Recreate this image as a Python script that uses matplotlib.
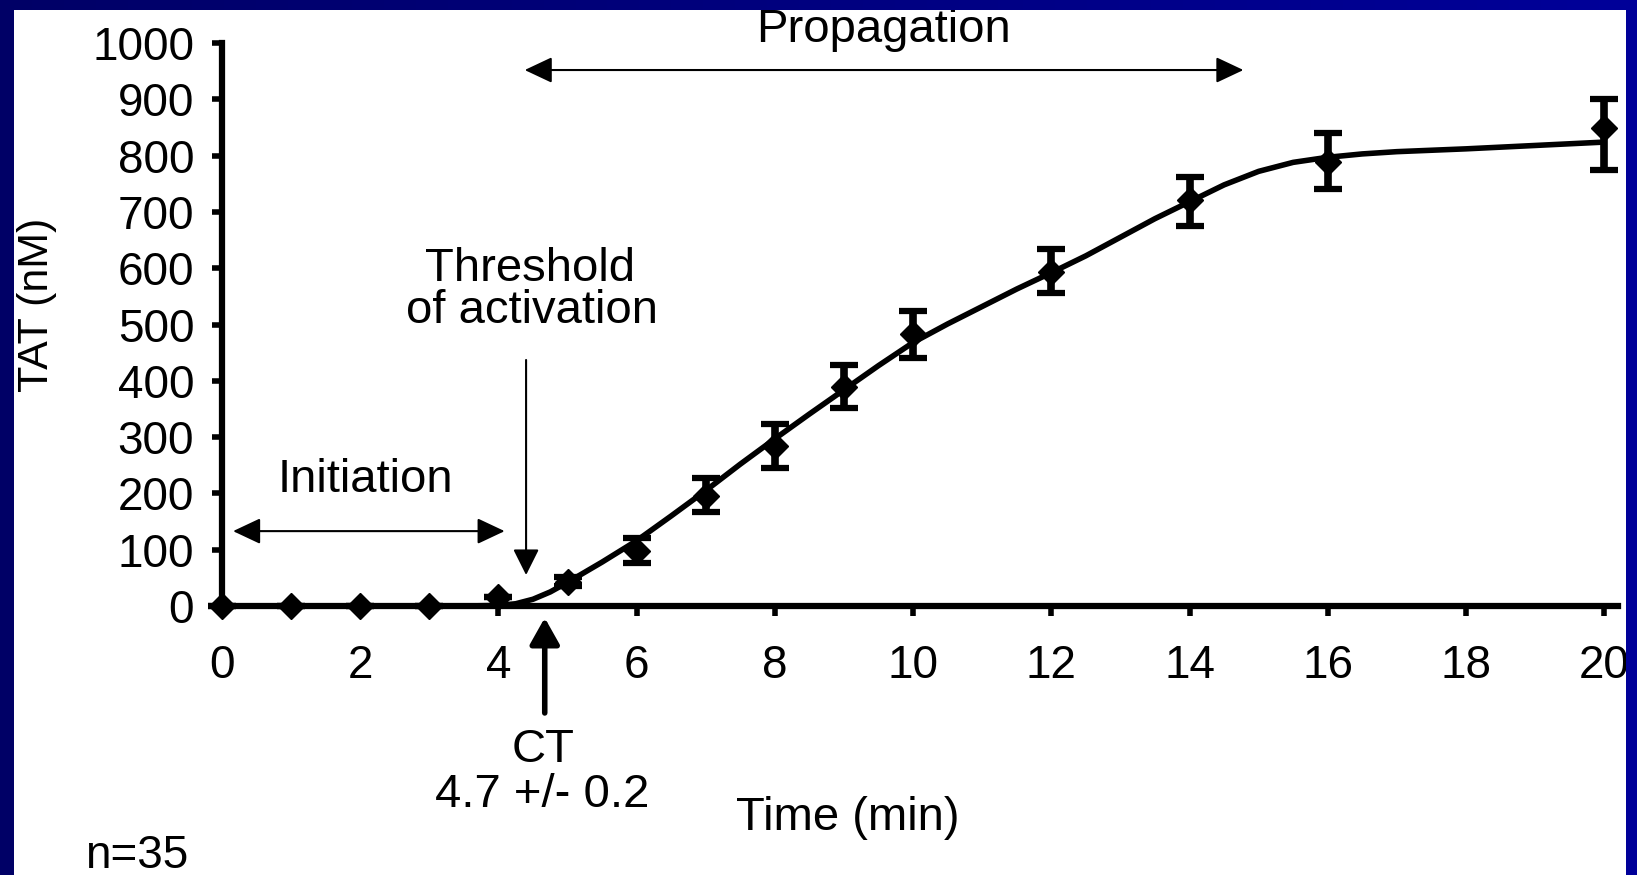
import numpy as np
import matplotlib
matplotlib.use("Agg")
import matplotlib.pyplot as plt
from matplotlib.patches import Rectangle
from matplotlib.colors import LinearSegmentedColormap

plt.rcParams['font.family'] = ['Liberation Sans', 'DejaVu Sans']

# ---- data ----
time_min = [0, 1, 2, 3, 4, 5, 6, 7, 8, 9, 10, 12, 14, 16, 20]
tat_nm = [0, 0, 0, 0, 16, 43, 97, 195, 284, 389, 484, 594, 721, 789, 849]
err_low = [0, 0, 0, 0, 0, 8, 21, 28, 39, 37, 43, 38, 46, 49, 75]
err_high = [0, 0, 0, 0, 0, 8, 24, 32, 39, 39, 40, 40, 41, 51, 51]

fit_time = [0, 1, 2, 3, 3.5, 4, 4.25, 4.5, 4.75, 5, 5.5, 6, 6.5, 7, 7.5, 8, 8.5, 9,
            9.5, 10, 10.5, 11, 11.5, 12, 12.5, 13, 13.5, 14, 14.5, 15, 15.5,
            16, 16.5, 17, 18, 19, 20]
fit_tat = [0, 0, 0, 0, 0, 1, 4, 12, 25, 42, 78, 116, 160, 205, 252, 297, 341, 384,
           427, 468, 501, 532, 563, 592, 622, 655, 688, 718, 748, 772, 788,
           797, 803, 807, 812, 818, 824]

x_ticks = [0, 2, 4, 6, 8, 10, 12, 14, 16, 18, 20]
y_ticks = [0, 100, 200, 300, 400, 500, 600, 700, 800, 900, 1000]

W, H = 1637, 875
fig = plt.figure(figsize=(W / 100, H / 100), dpi=100)
fig.patch.set_facecolor('white')

ax = fig.add_axes([222 / W, 1 - 606 / H, (1618 - 222) / W, (606 - 43) / H])
ax.set_xlim(0, 20.2)
ax.set_ylim(0, 1000)
for s in ['top', 'right']:
    ax.spines[s].set_visible(False)
for s in ['left', 'bottom']:
    ax.spines[s].set_linewidth(4.5)
ax.set_xticks(x_ticks)
ax.set_yticks(y_ticks)
ax.tick_params(axis='both', direction='out', length=7, width=4, labelsize=33)
ax.tick_params(axis='x', pad=20)
ax.tick_params(axis='y', pad=13)

ax.plot(fit_time, fit_tat, color='black', lw=4, solid_capstyle='round', zorder=3)
ax.errorbar(time_min, tat_nm, yerr=[err_low, err_high], fmt='none', ecolor='black',
            elinewidth=5.5, capsize=10, capthick=4.5, zorder=4, clip_on=False)
ax.plot(time_min, tat_nm, linestyle='none', marker='D', markersize=13,
        color='black', zorder=5, clip_on=False)

# annotations
def darrow(x0, y0, x1, y1, style, lw, hl, hw):
    ax.annotate('', xy=(x1, y1), xytext=(x0, y0), annotation_clip=False,
                arrowprops=dict(arrowstyle=f'{style},head_length={hl},head_width={hw}',
                                lw=lw, color='black', shrinkA=0, shrinkB=0,
                                mutation_scale=1))

darrow(4.38, 952, 14.78, 952, '<|-|>', 1.5, 17, 8)   # propagation
darrow(0.16, 133, 4.09, 133, '<|-|>', 1.5, 17, 8)    # initiation
darrow(4.40, 437, 4.40, 55, '-|>', 1.5, 16, 8)       # threshold
darrow(4.67, -190, 4.67, -21, '-|>', 4, 16, 9)       # CT

fs = 34
fig.text(883 / W, 1 - 42 / H, 'Propagation', ha='center', va='baseline', fontsize=fs)
fig.text(365 / W, 1 - 492 / H, 'Initiation', ha='center', va='baseline', fontsize=fs)
fig.text(530 / W, 1 - 281 / H, 'Threshold', ha='center', va='baseline', fontsize=fs)
fig.text(532 / W, 1 - 323 / H, 'of activation', ha='center', va='baseline', fontsize=fs)
fig.text(543 / W, 1 - 762 / H, 'CT', ha='center', va='baseline', fontsize=fs)
fig.text(542 / W, 1 - 807 / H, '4.7 +/- 0.2', ha='center', va='baseline', fontsize=fs)
fig.text(848 / W, 1 - 830 / H, 'Time (min)', ha='center', va='baseline', fontsize=fs)
fig.text(137 / W, 1 - 868 / H, 'n=35', ha='center', va='baseline', fontsize=33)
fig.text(37 / W, 1 - 305 / H, 'TAT (nM)', ha='center', va='center', rotation=90,
         fontsize=31)

# blue slide border
fig.add_artist(Rectangle((0, 0), 14 / W, 1, transform=fig.transFigure,
                         facecolor='#000066', edgecolor='none', zorder=20))
fig.add_artist(Rectangle((1626 / W, 0), 1 - 1626 / W, 1, transform=fig.transFigure,
                         facecolor='#000099', edgecolor='none', zorder=20))
bax = fig.add_axes([0, 1 - 10 / H, 1, 10 / H], zorder=20)
grad = np.linspace(0, 1, 256)[None, :]
cmap = LinearSegmentedColormap.from_list('b', ['#000066', '#000099'])
bax.imshow(grad, aspect='auto', cmap=cmap, extent=[0, 1, 0, 1])
bax.set_axis_off()

fig.savefig('out.png', dpi=100)
